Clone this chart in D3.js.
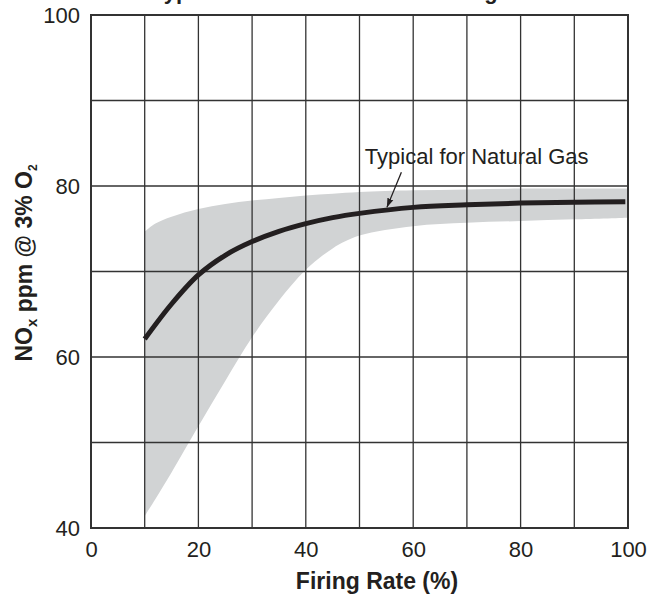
<!DOCTYPE html>
<html>
<head>
<meta charset="utf-8">
<script src="https://cdn.jsdelivr.net/npm/d3@7"></script>
<style>
    body { margin: 0; background: #fff; }
    text { font-family: "Liberation Sans", Arial, sans-serif; fill: #231f20; }
</style>
</head>
<body>
<div id="chart"></div>
<script>
// data
const curveX = [10, 15, 20, 25, 30, 35, 40, 45, 50, 60, 70, 80, 90, 99.5];
const curveY = [62.1, 66.2, 69.6, 71.9, 73.5, 74.7, 75.6, 76.3, 76.8, 77.5, 77.8, 78.0, 78.1, 78.15];

const bandX = [10, 12, 15, 20, 25, 30, 35, 40, 45, 50, 60, 70, 80, 90, 100];
const bandHigh = [74.65, 75.6, 76.4, 77.3, 77.9, 78.3, 78.6, 78.9, 79.1, 79.3, 79.5, 79.6, 79.7, 79.7, 79.7];
const bandLow = [41.4, 43.4, 46.5, 51.9, 57.2, 62.3, 66.6, 70.2, 72.7, 74.2, 75.3, 75.7, 75.9, 76.1, 76.3];

const xTicks = [0, 20, 40, 60, 80, 100];
const yTicks = [40, 60, 80, 100];
const xGrid = d3.range(0, 101, 10);
const yGrid = d3.range(40, 101, 10);

const W = 664, H = 597;
const margin = {top: 15, right: 36, bottom: 69, left: 91};
const width = W - margin.left - margin.right;
const height = H - margin.top - margin.bottom;

const svg = d3.select("#chart").append("svg")
    .attr("width", W)
    .attr("height", H);

const g = svg.append("g")
    .attr("transform", "translate(" + margin.left + "," + margin.top + ")");

const x = d3.scaleLinear().domain([0, 100]).range([0, width]);
const y = d3.scaleLinear().domain([40, 100]).range([height, 0]);

// title, mostly cut off at the top edge
svg.append("text")
    .attr("x", 152)
    .attr("y", -1.5)
    .style("font-size", "22px")
    .style("font-weight", "bold")
    .text("Typical NOx Emissions vs. Firing Rate");

// grey range band
const band = bandX.map((d, i) => ({x: d, lo: bandLow[i], hi: bandHigh[i]}));
g.append("path")
    .datum(band)
    .attr("fill", "#d1d3d4")
    .attr("d", d3.area()
        .x(d => x(d.x))
        .y0(d => y(d.lo))
        .y1(d => y(d.hi))
        .curve(d3.curveCatmullRom.alpha(0.5)));

// grid
g.selectAll(".vgrid").data(xGrid).join("line")
    .attr("x1", d => x(d)).attr("x2", d => x(d))
    .attr("y1", 0).attr("y2", height)
    .attr("stroke", "#333").attr("stroke-width", 1.3);
g.selectAll(".hgrid").data(yGrid).join("line")
    .attr("x1", 0).attr("x2", width)
    .attr("y1", d => y(d)).attr("y2", d => y(d))
    .attr("stroke", "#333").attr("stroke-width", 1.3);

// typical curve
const pts = curveX.map((d, i) => [d, curveY[i]]);
g.append("path")
    .datum(pts)
    .attr("fill", "none")
    .attr("stroke", "#231f20")
    .attr("stroke-width", 5)
    .attr("d", d3.line()
        .x(d => x(d[0]))
        .y(d => y(d[1]))
        .curve(d3.curveCatmullRom.alpha(0.5)));

// frame
g.append("rect")
    .attr("width", width).attr("height", height)
    .attr("fill", "none")
    .attr("stroke", "#333").attr("stroke-width", 2);

// axes
const xAxis = g.append("g")
    .attr("transform", "translate(0," + height + ")")
    .call(d3.axisBottom(x).tickValues(xTicks).tickSize(0).tickPadding(13));
const yAxis = g.append("g")
    .call(d3.axisLeft(y).tickValues(yTicks).tickSize(0).tickPadding(11));
[xAxis, yAxis].forEach(a => {
    a.select(".domain").remove();
    a.selectAll("text")
        .style("font-family", "'Liberation Sans', Arial, sans-serif")
        .style("font-size", "22px")
        .attr("fill", "#231f20");
});

// axis titles
svg.append("text")
    .attr("x", 377)
    .attr("y", 589)
    .attr("text-anchor", "middle")
    .style("font-size", "23px")
    .style("font-weight", "bold")
    .text("Firing Rate (%)");

const yt = svg.append("text")
    .attr("transform", "translate(32,263) rotate(-90)")
    .attr("text-anchor", "middle")
    .style("font-size", "23px")
    .style("font-weight", "bold");
yt.append("tspan").text("NO");
yt.append("tspan").attr("dy", 5).style("font-size", "15px").text("x");
yt.append("tspan").attr("dy", -5).text(" ppm @ 3% O");
yt.append("tspan").attr("dy", 5).style("font-size", "12px").text("2");

// annotation
svg.append("defs").append("marker")
    .attr("id", "arrow")
    .attr("viewBox", "0 0 10 10")
    .attr("refX", 10).attr("refY", 5)
    .attr("markerWidth", 9).attr("markerHeight", 9)
    .attr("markerUnits", "userSpaceOnUse")
    .attr("orient", "auto")
    .append("path")
    .attr("d", "M0,1.5L10,5L0,8.5Z")
    .attr("fill", "#231f20");

g.append("line")
    .attr("x1", x(57.8)).attr("y1", y(81.6))
    .attr("x2", x(55.1)).attr("y2", y(77.5))
    .attr("stroke", "#231f20").attr("stroke-width", 1.3)
    .attr("marker-end", "url(#arrow)");

g.append("text")
    .attr("x", x(51))
    .attr("y", y(82.6))
    .style("font-size", "22px")
    .text("Typical for Natural Gas");
</script>
</body>
</html>
